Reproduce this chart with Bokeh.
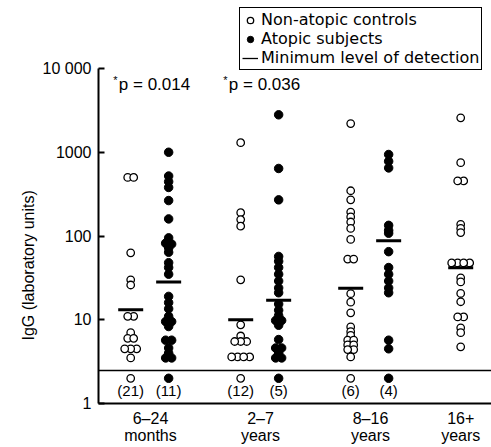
import numpy as np
from bokeh.plotting import figure
from bokeh.models import Range1d, FixedTicker, Legend, LegendItem, ColumnDataSource, Title
from bokeh.core.properties import value
from bokeh.embed import file_html
from bokeh.resources import INLINE

# ---------------- data ----------------
groups = ["6\u201324\nmonths", "2\u20137\nyears", "8\u201316\nyears", "16+\nyears"]

control_values = [
    [500, 500, 63, 30, 26, 11, 11, 7.0, 6.0, 6.0, 4.5, 4.5, 4.5, 3.5],
    [1300, 190, 157, 131, 30, 8.7, 6.4, 5.5, 5.5, 5.5, 3.6, 3.6, 3.6, 3.6],
    [2200, 347, 270, 193, 169, 147, 123, 91, 53, 53, 20.5, 16.2, 12.1,
     8.2, 7.2, 6.5, 5.7, 5.7, 5.0, 5.0, 4.4, 4.4, 3.6],
    [2580, 750, 455, 455, 138, 123, 110, 47.7, 47.7, 47.7, 47.7, 31.7, 28.3,
     20.6, 16.4, 10.8, 10.8, 8.0, 7.0, 4.75],
]
atopic_values = [
    [1000, 520, 445, 380, 265, 160, 95, 82, 80, 72, 64, 48, 42, 35, 19, 16,
     13.5, 11, 9.5, 9.5, 8.3, 5.7, 5.7, 4.6, 4.0, 3.5, 3.5],
    [2800, 640, 270, 57, 50, 42, 35, 29, 24, 21, 15.4, 13, 11.2, 9.8, 9.8,
     8.6, 5.8, 4.6, 4.6, 4.0, 3.5, 3.5],
    [940, 780, 650, 134, 117, 108, 65, 42, 35, 29, 24, 21, 5.7, 4.5],
    [],
]
control_means = [13.2, 10.0, 23.7, 41.7]
atopic_means = [28.2, 17.1, 87.5, None]
control_undetected = [21, 12, 6, 0]
atopic_undetected = [11, 5, 4, 0]
undetected_value = 2.0
detection_limit = 2.5
pvalue_groups = [0, 1]
pvalues = ["0.014", "0.036"]
y_ticks = [1, 10, 100, 1000, 10000]
y_tick_labels = ["1", "10", "100", "1000", "10 000"]
y_title = "IgG (laboratory units)"

# ---------------- layout ----------------
W, H = 491, 447
LEFT = 98
FRAME_BOTTOM = 403       # expected frame bottom (px from top)
TOP_TICK = 68            # px of the 10 000 tick
frame_w = W - LEFT
PX_UNIT = 110.0          # pixels per group
PX_DEC = (FRAME_BOTTOM - TOP_TICK) / 4.0
x_start = 1 - 52 / PX_UNIT
x_end = x_start + frame_w / PX_UNIT
y_end = 10 ** (FRAME_BOTTOM / PX_DEC)
OPEN_OFF, FILL_OFF = -0.18, 0.165
FONT = value("Liberation Sans")


def swarm(vals, gap=2.5, spacing=6.0):
    """Horizontal offsets: points at (almost) the same level sit side by side."""
    ys = [PX_DEC * np.log10(v) for v in vals]
    order = list(np.argsort(ys)[::-1])
    offs = [0.0] * len(vals)
    clusters, cur = [], []
    for i in order:
        if cur and ys[cur[-1]] - ys[i] > gap:
            clusters.append(cur)
            cur = []
        cur.append(i)
    if cur:
        clusters.append(cur)
    for cl in clusters:
        n = len(cl)
        for k, i in enumerate(cl):
            offs[i] = (k - (n - 1) / 2) * spacing / PX_UNIT
    return offs


def build(values_list, col_off, undetected):
    xs, ys = [], []
    for gi, vals in enumerate(values_list):
        base = gi + 1 + col_off
        for v, o in zip(vals, swarm(vals)):
            xs.append(base + o)
            ys.append(v)
        if undetected[gi] > 0:
            xs.append(base)
            ys.append(undetected_value)
    return ColumnDataSource(dict(x=xs, y=ys))


p = figure(width=W, height=H, x_range=Range1d(x_start, x_end),
           y_range=Range1d(1, y_end), y_axis_type="log",
           output_backend="svg", toolbar_location=None,
           min_border_left=LEFT, min_border_bottom=H - FRAME_BOTTOM,
           min_border_top=0, min_border_right=0)
p.outline_line_color = None
p.grid.visible = False
p.background_fill_color = "white"

# detection limit line
r_line = p.hspan(y=[detection_limit], line_color="black", line_width=1.3)

src_c = build(control_values, OPEN_OFF, control_undetected)
src_a = build(atopic_values, FILL_OFF, atopic_undetected)
r_open = p.scatter("x", "y", source=src_c, marker="circle", size=7.5,
                   fill_color="white", line_color="black", line_width=1.3)
r_fill = p.scatter("x", "y", source=src_a, marker="circle", size=8.5,
                   fill_color="black", line_color="black", line_width=1)

# means
mx, my = [], []
for gi, m in enumerate(control_means):
    if m is not None:
        mx.append(gi + 1 + OPEN_OFF); my.append(m)
for gi, m in enumerate(atopic_means):
    if m is not None:
        mx.append(gi + 1 + FILL_OFF); my.append(m)
p.scatter(mx, my, marker="dash", size=25, line_width=3, line_color="black")

# counts below detection
cx, cy, ct = [], [], []
for gi in range(len(groups)):
    if control_undetected[gi] > 0:
        cx.append(gi + 1 + OPEN_OFF); cy.append(undetected_value); ct.append(f"({control_undetected[gi]})")
    if atopic_undetected[gi] > 0:
        cx.append(gi + 1 + FILL_OFF); cy.append(undetected_value); ct.append(f"({atopic_undetected[gi]})")
p.text(cx, cy, text=ct, text_align="center", text_baseline="middle", y_offset=12,
       text_font=FONT, text_font_size="15px", text_color="black")

# p-values
px_ = [g + 1 for g in pvalue_groups]
py_ = [y_ticks[-1]] * len(pvalue_groups)
p.text(px_, py_, text=["p = " + v for v in pvalues], text_align="center",
       text_baseline="middle", x_offset=4, y_offset=16,
       text_font=FONT, text_font_size="17px", text_color="black")
p.text(px_, py_, text=["*"] * len(pvalue_groups), text_align="right",
       text_baseline="middle", x_offset=-33, y_offset=11,
       text_font=FONT, text_font_size="11px", text_color="black")

legend = Legend(items=[LegendItem(label="Non-atopic controls", renderers=[r_open]),
                       LegendItem(label="Atopic subjects", renderers=[r_fill]),
                       LegendItem(label="Minimum level of detection", renderers=[r_line])],
                location=(141, FRAME_BOTTOM - 70))
legend.label_text_font = "DejaVu Sans"
legend.label_text_font_size = "16px"
legend.label_text_color = "black"
legend.label_height = 16
legend.glyph_height = 16
legend.glyph_width = 16
legend.label_standoff = 3
legend.spacing = 0
legend.padding = 2
legend.margin = 0
legend.border_line_color = "black"
legend.border_line_width = 1.3
legend.border_line_alpha = 1.0
legend.background_fill_color = "white"
legend.background_fill_alpha = 1
p.add_layout(legend)

# y axis
ya = p.yaxis[0]
ya.ticker = FixedTicker(ticks=y_ticks)
ya.major_label_overrides = {t: l for t, l in zip(y_ticks, y_tick_labels)}
ya.bounds = (y_ticks[0], y_ticks[-1])
ya.major_tick_in = 6
ya.major_tick_out = 0
ya.major_tick_line_width = 2
ya.minor_tick_line_color = None
ya.axis_line_width = 2
ya.major_label_standoff = 7
ya.major_label_text_font = "Liberation Sans"
ya.major_label_text_font_size = "16px"
ya.major_label_text_color = "black"

p.add_layout(Title(text=y_title, align="left", offset=63, vertical_align="middle",
                   text_font="Liberation Sans", text_font_size="16px",
                   text_font_style="normal", text_color="black", standoff=4), "left")

# x axis with two-line group labels
tick_pos = [gi + 1 + (0 if atopic_values[gi] else OPEN_OFF) for gi in range(len(groups))]
xa = p.xaxis[0]
xa.ticker = FixedTicker(ticks=tick_pos)
xa.major_label_overrides = {t: g for t, g in zip(tick_pos, groups)}
xa.major_tick_line_color = None
xa.minor_tick_line_color = None
xa.axis_line_width = 2
xa.major_label_standoff = 0
xa.major_label_text_font = "Liberation Sans"
xa.major_label_text_font_size = "16px"
xa.major_label_text_line_height = 1.0
xa.major_label_text_color = "black"

open("out.html", "w").write(file_html(p, INLINE))
